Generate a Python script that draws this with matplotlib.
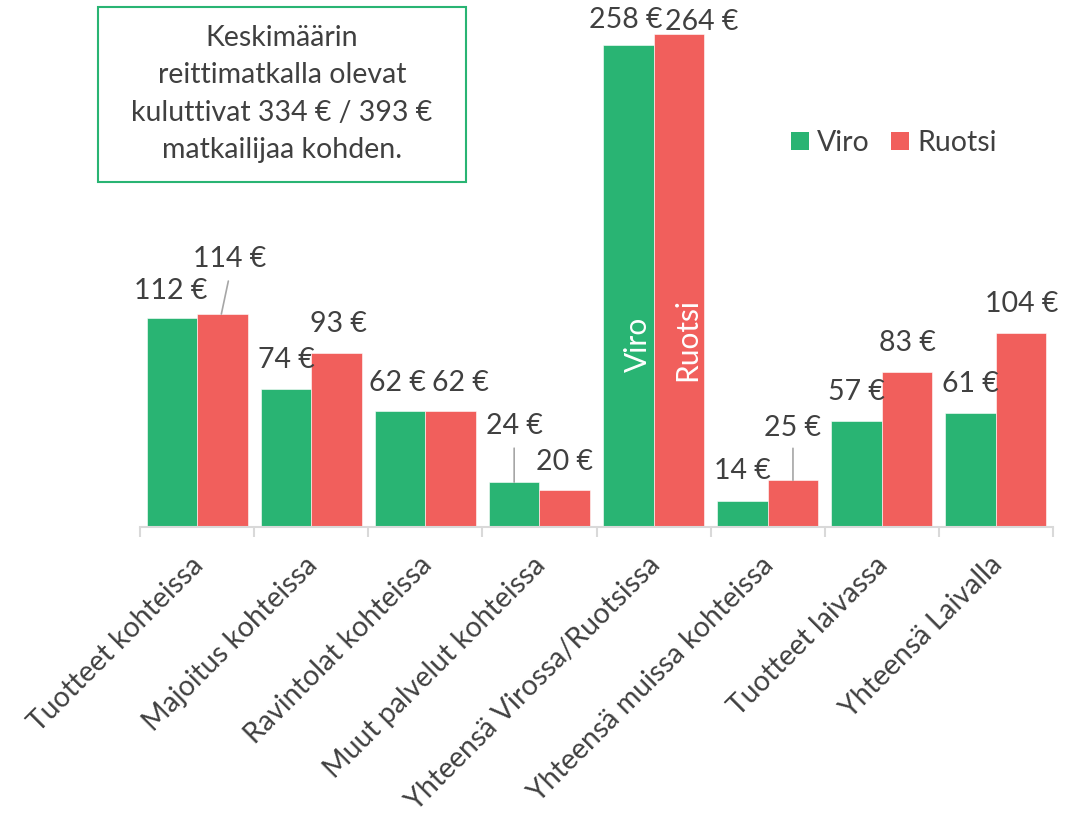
import matplotlib
matplotlib.use("Agg")
import matplotlib.pyplot as plt
import matplotlib.transforms as mtransforms
from matplotlib.patches import Rectangle, Patch

# ---- data ----
categories = ["Tuotteet kohteissa", "Majoitus kohteissa", "Ravintolat kohteissa",
              "Muut palvelut kohteissa", "Yhteensä Virossa/Ruotsissa",
              "Yhteensä muissa kohteissa", "Tuotteet laivassa", "Yhteensä Laivalla"]
viro = [112, 74, 62, 24, 258, 14, 57, 61]
ruotsi = [114, 93, 62, 20, 264, 25, 83, 104]
series_names = ["Viro", "Ruotsi"]
note_text = "Keskimäärin\nreittimatkalla olevat\nkuluttivat 334 € / 393 €\nmatkailijaa kohden."

# ---- style ----
GREEN = "#29B473"
RED = "#F15F5C"
TXT = "#404040"
AXC = "#D9D9D9"
FONT = "Lato"
FS = 20.5

# label offsets (pixels, label centre relative to bar top centre)
viro_off = [(-1, 29), (0, 31), (-3, 30), (0, 58), (-3, 27), (0, 32), (0, 31), (0, 31)]
ruotsi_off = [(7, 57), (2, 31), (10, 30), (0, 30), (23, 14), (0, 54), (0, 31), (0, 31)]
# leader lines: (series, index) -> (start dx, end dx, end dy) in pixels
leaders = {(1, 0): (-1, 6, 33), (0, 3): (0, 0, 34), (1, 5): (0, 0, 32)}

plt.rcParams['font.family'] = [FONT, 'DejaVu Sans']

fig = plt.figure(figsize=(10.81, 8.16), dpi=100)
ax = fig.add_axes([140 / 1081, 1 - 527 / 816, (1053 - 140) / 1081, 523 / 816])

n = len(categories)
w = 0.443
xs = list(range(n))
xv = [x - w / 2 for x in xs]
xr = [x + w / 2 for x in xs]
ax.bar(xv, viro, width=w, color=GREEN, edgecolor="#FFFFFF", linewidth=0.4, zorder=2)
ax.bar(xr, ruotsi, width=w, color=RED, edgecolor="#FFFFFF", linewidth=0.4, zorder=2)

ax.set_xlim(-0.5, n - 0.5)
ax.set_ylim(0, 280)

for s, (xpos, vals, offs) in enumerate([(xv, viro, viro_off), (xr, ruotsi, ruotsi_off)]):
    for i, (x, v, (dx, dy)) in enumerate(zip(xpos, vals, offs)):
        ax.annotate(f"{v} €", xy=(x, v), xytext=(dx, dy - 10), textcoords="offset pixels",
                    ha="center", va="baseline", fontsize=FS, color=TXT, zorder=4)
        if (s, i) in leaders:
            sdx, edx, edy = leaders[(s, i)]
            t0 = mtransforms.offset_copy(ax.transData, fig=fig, x=sdx, y=0, units='dots')
            ax.annotate("", xy=(x, v), xycoords=t0,
                        xytext=(edx - sdx, edy), textcoords="offset pixels",
                        arrowprops=dict(arrowstyle="-", color="#A6A6A6", lw=1.2,
                                        shrinkA=0, shrinkB=0), zorder=3)

# in-bar series names for the totals bar
ib = 4
ax.annotate(series_names[0], xy=(xv[ib], 0), xytext=(19, 155), textcoords="offset pixels",
            rotation=90, rotation_mode="anchor", ha="left", va="baseline",
            fontsize=FS + 1, color="white", zorder=4)
ax.annotate(series_names[1], xy=(xr[ib], 0), xytext=(17, 146), textcoords="offset pixels",
            rotation=90, rotation_mode="anchor", ha="left", va="baseline",
            fontsize=FS + 1, color="white", zorder=4)

# axes styling
for sp in ["top", "right", "left"]:
    ax.spines[sp].set_visible(False)
ax.spines["bottom"].set_color(AXC)
ax.spines["bottom"].set_linewidth(1.5)
ax.set_yticks([])
ax.set_xticks([x - 0.5 for x in range(n + 1)])
ax.set_xticklabels([])
ax.tick_params(axis="x", length=7.5, width=1.5, color=AXC)

lab_tr = mtransforms.offset_copy(ax.get_xaxis_transform(), fig=fig, x=2, y=-34, units='dots')
for x, c in zip(xs, categories):
    ax.text(x, 0, c, transform=lab_tr, rotation=45, rotation_mode="anchor",
            ha="right", va="center", fontsize=FS, color=TXT)

# legend
handles = [Patch(facecolor=GREEN), Patch(facecolor=RED)]
leg = fig.legend(handles, series_names, loc="center", bbox_to_anchor=(894 / 1081, 1 - 143 / 816),
                 ncol=2, frameon=False, fontsize=FS, handlelength=0.62, handleheight=0.62,
                 handletextpad=0.3, columnspacing=0.75, borderpad=0)
for t in leg.get_texts():
    t.set_color(TXT)

# annotation box
fig.patches.append(Rectangle((98 / 1081, 1 - 182 / 816), 368 / 1081, 175 / 816,
                             transform=fig.transFigure, facecolor="white",
                             edgecolor=GREEN, linewidth=1.5, zorder=5))
fig.text(282 / 1081, 1 - 94 / 816, note_text, ha="center", va="center",
         fontsize=FS, color=TXT, linespacing=1.53, zorder=6)

fig.savefig("out.png", dpi=100)
